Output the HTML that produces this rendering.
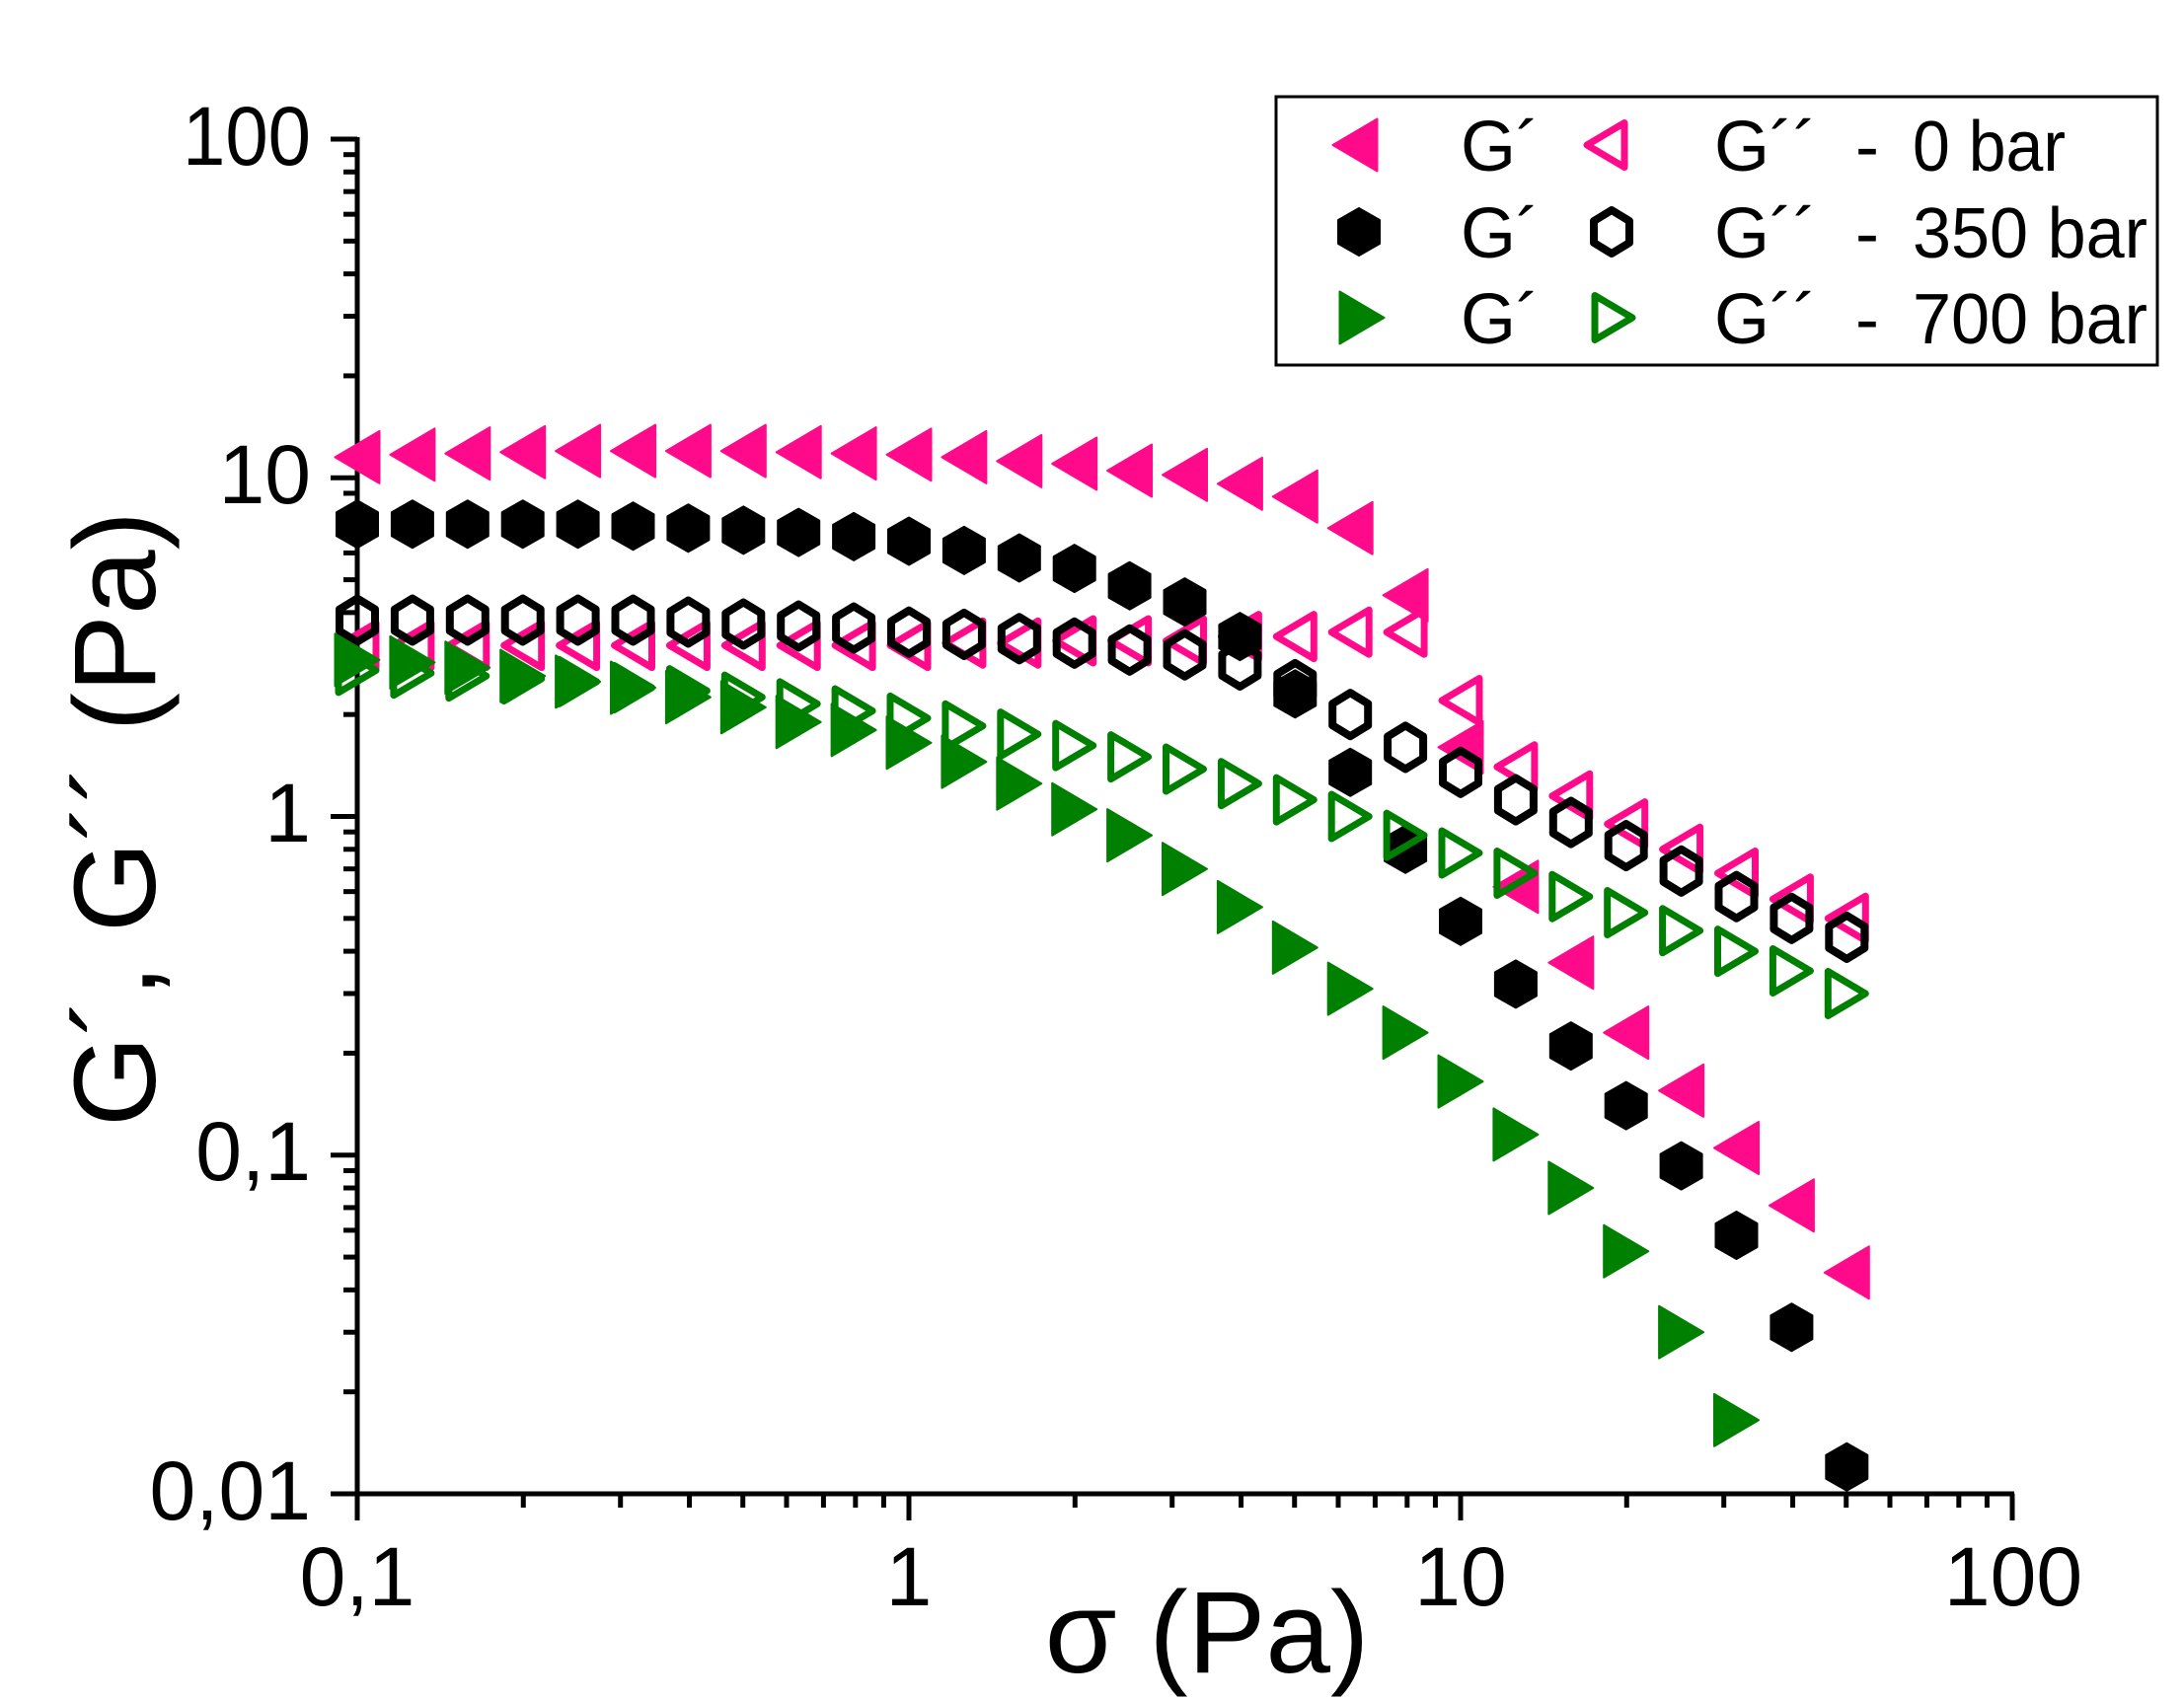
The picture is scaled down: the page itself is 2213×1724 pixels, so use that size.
<!DOCTYPE html>
<html><head><meta charset="utf-8"><style>
html,body{margin:0;padding:0;background:#fff}
svg{display:block}
text{font-family:"Liberation Sans",sans-serif;fill:#000}
</style></head><body>
<svg id="s" width="2213" height="1724" viewBox="0 0 2213 1724" xmlns="http://www.w3.org/2000/svg">
<g id="ticks" stroke="#000" stroke-width="5" fill="none"></g>
<line x1="362" y1="139" x2="362" y2="1541" stroke="#000" stroke-width="5"/>
<line x1="335" y1="1514" x2="2041" y2="1514" stroke="#000" stroke-width="5"/>
<g font-size="84" text-anchor="end">
<text x="315" y="167" textLength="130" lengthAdjust="spacingAndGlyphs">100</text>
<text x="315" y="510">10</text>
<text x="315" y="853">1</text>
<text x="315" y="1196">0,1</text>
<text x="315" y="1540">0,01</text>
</g>
<g font-size="84" text-anchor="middle">
<text x="362" y="1627">0,1</text>
<text x="921" y="1627">1</text>
<text x="1480" y="1627">10</text>
<text x="2040" y="1627">100</text>
</g>
<text x="1223" y="1695" font-size="118" text-anchor="middle">σ (Pa)</text>
<text transform="translate(157,830) rotate(-90)" font-size="118" text-anchor="middle" textLength="624" lengthAdjust="spacingAndGlyphs">G´, G´´ (Pa)</text>
<g id="data"></g>
<rect x="1293" y="98" width="893" height="272" fill="#fff" stroke="#000" stroke-width="3"/>
<g id="leg"></g>
<g font-size="72">
<text x="1480" y="173">G´</text><text x="1737" y="173">G´´</text><text x="1880" y="173">-</text><text x="1938" y="173" textLength="155" lengthAdjust="spacingAndGlyphs">0 bar</text>
<text x="1480" y="261">G´</text><text x="1737" y="261">G´´</text><text x="1880" y="261">-</text><text x="1938" y="261" textLength="238" lengthAdjust="spacingAndGlyphs">350 bar</text>
<text x="1480" y="348">G´</text><text x="1737" y="348">G´´</text><text x="1880" y="348">-</text><text x="1938" y="348" textLength="238" lengthAdjust="spacingAndGlyphs">700 bar</text>
</g>
</svg>
<script>
var NS="http://www.w3.org/2000/svg";
function X(v){return 362+559*(Math.log10(v)+1);}
function Y(v){return 141+343.25*(2-Math.log10(v));}
var tk=document.getElementById('ticks'),h='';
for(var d=-1;d<2;d++){for(var k=1;k<10;k++){var x=X(k*Math.pow(10,d));h+='<line x1="'+x+'" y1="1514" x2="'+x+'" y2="'+(k==1?1541:1528)+'"/>';}}
h+='<line x1="2039" y1="1514" x2="2039" y2="1541"/>';
for(var d=-2;d<2;d++){for(var k=1;k<10;k++){var y=Y(k*Math.pow(10,d));h+='<line x1="362" y1="'+y+'" x2="'+(k==1?335:348)+'" y2="'+y+'"/>';}}
h+='<line x1="362" y1="141" x2="335" y2="141"/>';
tk.innerHTML=h;
var P="#ff0a8a",G="#008000",K="#000";
function shape(t,cx,cy,col,open){
 var w=45,hh=53;
 if(open){w-=7;hh-=8;}
 var pts;
 if(t=='L')pts=[[cx+w/2,cy-hh/2],[cx+w/2,cy+hh/2],[cx-w/2,cy]];
 else if(t=='R')pts=[[cx-w/2,cy-hh/2],[cx-w/2,cy+hh/2],[cx+w/2,cy]];
 else{var hw=open?18:21,hv=open?22:24;pts=[[cx,cy-hv],[cx+hw,cy-hv/2],[cx+hw,cy+hv/2],[cx,cy+hv],[cx-hw,cy+hv/2],[cx-hw,cy-hv/2]];}
 var p=pts.map(function(a){return a[0].toFixed(1)+','+a[1].toFixed(1)}).join(' ');
 if(open)return '<polygon points="'+p+'" fill="none" stroke="'+col+'" stroke-width="'+(t=='H'?8:7)+'" stroke-linejoin="round"/>';
 return '<polygon points="'+p+'" fill="'+col+'" stroke="'+col+'" stroke-width="2" stroke-linejoin="round"/>';
}
var series=[
 ['L',P,0,[11.5,11.7,11.8,11.9,12,12,12,12,11.9,11.8,11.7,11.5,11.2,11.0,10.5,10.2,9.6,8.8,7.1,4.5,1.6,0.62,0.37,0.23,0.155,0.105,0.071,0.045]],
 ['L',P,1,[3.2,3.2,3.2,3.2,3.2,3.2,3.2,3.2,3.2,3.2,3.2,3.25,3.25,3.3,3.3,3.3,3.4,3.4,3.5,3.5,2.2,1.4,1.15,0.95,0.8,0.68,0.57,0.5]],
 ['H',K,0,[7.3,7.3,7.3,7.3,7.3,7.2,7.1,7.0,6.9,6.7,6.5,6.1,5.8,5.4,4.8,4.3,3.4,2.3,1.35,0.8,0.49,0.32,0.21,0.14,0.093,0.058,0.031,0.012]],
 ['H',K,1,[3.8,3.8,3.8,3.8,3.8,3.8,3.75,3.7,3.65,3.6,3.5,3.45,3.35,3.25,3.1,3.0,2.8,2.45,2.0,1.6,1.35,1.12,0.96,0.82,0.69,0.58,0.5,0.44]],
 ['R',G,0,[2.9,2.85,2.75,2.6,2.5,2.4,2.25,2.1,1.9,1.8,1.65,1.45,1.25,1.05,0.88,0.7,0.54,0.41,0.31,0.23,0.165,0.115,0.08,0.052,0.03,0.0165]],
 ['R',G,1,[2.7,2.65,2.6,2.55,2.5,2.4,2.35,2.25,2.15,2.05,1.95,1.85,1.75,1.62,1.5,1.38,1.25,1.12,1.0,0.88,0.78,0.68,0.58,0.52,0.46,0.4,0.35,0.3]]
];
var out='';
series.forEach(function(s){s[3].forEach(function(v,i){out+=shape(s[0],X(0.1*Math.pow(10,i/10)),Y(v),s[1],s[2]);});});
document.getElementById('data').innerHTML=out;
var lg='';
lg+=shape('L',1373,147,P,0)+shape('L',1627,147,P,1);
lg+=shape('H',1377,235,K,0)+shape('H',1633,235,K,1);
lg+=shape('R',1380,322,G,0)+shape('R',1635,322,G,1);
document.getElementById('leg').innerHTML=lg;
</script>
</body></html>
